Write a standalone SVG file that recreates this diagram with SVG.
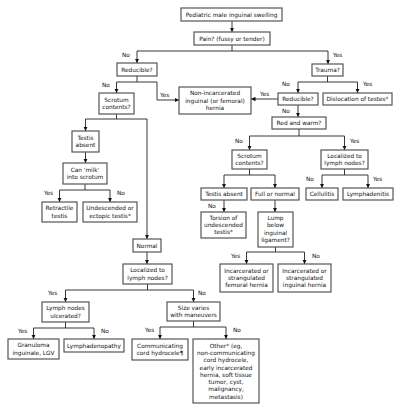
<svg xmlns="http://www.w3.org/2000/svg" width="400" height="411" viewBox="0 0 400 411">
<defs>
<marker id="ah" markerUnits="userSpaceOnUse" markerWidth="5" markerHeight="5" refX="4.5" refY="2.5" orient="auto">
<path d="M0,0.3 L4.5,2.5 L0,4.7 z" fill="#111"/>
</marker>
<style>
rect{fill:#fff;stroke:#555;stroke-width:1.2}
text{font-family:"DejaVu Sans",Verdana,sans-serif;font-size:5.8px;fill:#111;text-anchor:middle}
.lb{text-anchor:start}
#connectors path{fill:none;stroke:#222;stroke-width:0.9}
.a{marker-end:url(#ah)}
</style>
</defs>
<rect x="0" y="0" width="400" height="411" style="fill:#fff;stroke:none"/>
<g id="connectors">
<path class="a" d="M232,21V32"/>
<path d="M232,45V51M137,51H328"/>
<path class="a" d="M137,51V63"/>
<path class="a" d="M328,51V64"/>
<path d="M137,76V82M116.5,82H157"/>
<path class="a" d="M116.5,82V93"/>
<path class="a" d="M157,82V100H179"/>
<path d="M116.5,114V119M85.5,119H147"/>
<path class="a" d="M85.5,119V131"/>
<path class="a" d="M147,119V239"/>
<path class="a" d="M85.5,152V163"/>
<path d="M85,184V190M59.5,190H110"/>
<path class="a" d="M59.5,190V202"/>
<path class="a" d="M110,190V202"/>
<path class="a" d="M147,252V264"/>
<path d="M147.5,284V290M65.5,290H193.5"/>
<path class="a" d="M65.5,290V302"/>
<path class="a" d="M193.5,290V302"/>
<path d="M65.5,322V328M33.5,328H94"/>
<path class="a" d="M33.5,328V339"/>
<path class="a" d="M94,328V339"/>
<path d="M193.5,321V327M160,327H226"/>
<path class="a" d="M160,327V339"/>
<path class="a" d="M226,327V339"/>
<path d="M327.5,76V82M298,82H357.5"/>
<path class="a" d="M298,82V93"/>
<path class="a" d="M357.5,82V93"/>
<path class="a" d="M278,99H251"/>
<path class="a" d="M298,105V117"/>
<path d="M299,129V136M249.5,136H344.5"/>
<path class="a" d="M249.5,136V150"/>
<path class="a" d="M344.5,136V150"/>
<path d="M249.5,169V175M224,175H275"/>
<path class="a" d="M224,175V188"/>
<path class="a" d="M275,175V188"/>
<path d="M344.5,169V175M322,175H368"/>
<path class="a" d="M322,175V188"/>
<path class="a" d="M368,175V188"/>
<path class="a" d="M224,200V212"/>
<path class="a" d="M275,200V212"/>
<path d="M275.5,247V252M246.5,252H304.5"/>
<path class="a" d="M246.5,252V264"/>
<path class="a" d="M304.5,252V264"/>
</g>
<g id="labels">
<text class="lb" x="122" y="57">No</text>
<text class="lb" x="333" y="57">Yes</text>
<text class="lb" x="102" y="87">No</text>
<text class="lb" x="160" y="97">Yes</text>
<text class="lb" x="44" y="195">Yes</text>
<text class="lb" x="117" y="195">No</text>
<text class="lb" x="48" y="295">Yes</text>
<text class="lb" x="198" y="295">No</text>
<text class="lb" x="18" y="333">Yes</text>
<text class="lb" x="101" y="333">No</text>
<text class="lb" x="145" y="332">Yes</text>
<text class="lb" x="233" y="332">No</text>
<text class="lb" x="282" y="86">No</text>
<text class="lb" x="363" y="86">Yes</text>
<text class="lb" x="260" y="96">Yes</text>
<text class="lb" x="282" y="113">No</text>
<text class="lb" x="235" y="143">No</text>
<text class="lb" x="350" y="143">Yes</text>
<text class="lb" x="306" y="181">No</text>
<text class="lb" x="373" y="181">Yes</text>
<text class="lb" x="208" y="208">No</text>
<text class="lb" x="231" y="258">Yes</text>
<text class="lb" x="312" y="258">No</text>
</g>
<g id="n-title"><rect x="181" y="8" width="101" height="13"/><text x="231.5" y="16.6">Pediatric male inguinal swelling</text></g>
<g id="n-pain"><rect x="194" y="32" width="76" height="13"/><text x="232" y="40.6">Pain? (fussy or tender)</text></g>
<g id="n-reducible1"><rect x="117" y="63" width="40" height="13"/><text x="137" y="71.6">Reducible?</text></g>
<g id="n-trauma"><rect x="312" y="64" width="31" height="12"/><text x="327.5" y="72.1">Trauma?</text></g>
<g id="n-nonincarcerated"><rect x="179" y="87" width="72" height="27"/><text x="215" y="95.3">Non-incarcerated<tspan x="215" dy="7.3">inguinal (or femoral)</tspan><tspan x="215" dy="7.3">hernia</tspan></text></g>
<g id="n-reducible2"><rect x="278" y="93" width="40" height="12"/><text x="298" y="101.1">Reducible?</text></g>
<g id="n-dislocation"><rect x="323" y="93" width="69" height="12"/><text x="357.5" y="101.1">Dislocation of testes*</text></g>
<g id="n-redwarm"><rect x="272" y="117" width="54" height="12"/><text x="299" y="125.1">Red and warm?</text></g>
<g id="n-scrotum1"><rect x="99" y="93" width="35" height="21"/><text x="116.5" y="101.8">Scrotum<tspan x="116.5" dy="7.3">contents?</tspan></text></g>
<g id="n-testisabsent1"><rect x="72" y="131" width="27" height="21"/><text x="85.5" y="139.8">Testis<tspan x="85.5" dy="7.3">absent</tspan></text></g>
<g id="n-milk"><rect x="63" y="163" width="44" height="21"/><text x="85" y="171.8">Can 'milk'<tspan x="85" dy="7.3">into scrotum</tspan></text></g>
<g id="n-retractile"><rect x="42" y="202" width="35" height="20"/><text x="59.5" y="210.3">Retractile<tspan x="59.5" dy="7.3">testis</tspan></text></g>
<g id="n-undescended"><rect x="83" y="202" width="54" height="20"/><text x="110" y="210.3">Undescended or<tspan x="110" dy="7.3">ectopic testis*</tspan></text></g>
<g id="n-normal"><rect x="133" y="239" width="28" height="13"/><text x="147" y="247.6">Normal</text></g>
<g id="n-localized1"><rect x="123" y="264" width="49" height="20"/><text x="147.5" y="272.3">Localized to<tspan x="147.5" dy="7.3">lymph nodes?</tspan></text></g>
<g id="n-ulcerated"><rect x="42" y="302" width="47" height="20"/><text x="65.5" y="310.3">Lymph nodes<tspan x="65.5" dy="7.3">ulcerated?</tspan></text></g>
<g id="n-granuloma"><rect x="8" y="339" width="51" height="20"/><text x="33.5" y="347.3">Granuloma<tspan x="33.5" dy="7.3">inguinale, LGV</tspan></text></g>
<g id="n-lymphadenopathy"><rect x="64" y="339" width="60" height="13"/><text x="94" y="347.6">Lymphadenopathy</text></g>
<g id="n-sizevaries"><rect x="167" y="302" width="53" height="19"/><text x="193.5" y="309.8">Size varies<tspan x="193.5" dy="7.3">with maneuvers</tspan></text></g>
<g id="n-communicating"><rect x="132" y="339" width="56" height="21"/><text x="160" y="347.8">Communicating<tspan x="160" dy="7.3">cord hydrocele¶</tspan></text></g>
<g id="n-other"><rect x="193" y="339" width="66" height="64"/><text x="226" y="347.6">Other* (eg,<tspan x="226" dy="7.3">non-communicating</tspan><tspan x="226" dy="7.3">cord hydrocele,</tspan><tspan x="226" dy="7.3">early incarcerated</tspan><tspan x="226" dy="7.3">hernia, soft tissue</tspan><tspan x="226" dy="7.3">tumor, cyst,</tspan><tspan x="226" dy="7.3">malignancy,</tspan><tspan x="226" dy="7.3">metastasis)</tspan></text></g>
<g id="n-scrotum2"><rect x="232" y="150" width="35" height="19"/><text x="249.5" y="157.8">Scrotum<tspan x="249.5" dy="7.3">contents?</tspan></text></g>
<g id="n-localized2"><rect x="321" y="150" width="47" height="19"/><text x="344.5" y="157.8">Localized to<tspan x="344.5" dy="7.3">lymph nodes?</tspan></text></g>
<g id="n-testisabsent2"><rect x="201" y="188" width="46" height="12"/><text x="224" y="196.1">Testis absent</text></g>
<g id="n-fullnormal"><rect x="251" y="188" width="48" height="12"/><text x="275" y="196.1">Full or normal</text></g>
<g id="n-cellulitis"><rect x="306" y="188" width="32" height="12"/><text x="322" y="196.1">Cellulitis</text></g>
<g id="n-lymphadenitis"><rect x="343" y="188" width="50" height="12"/><text x="368" y="196.1">Lymphadenitis</text></g>
<g id="n-torsion"><rect x="201" y="212" width="45" height="26"/><text x="223.5" y="219.8">Torsion of<tspan x="223.5" dy="7.3">undescended</tspan><tspan x="223.5" dy="7.3">testis*</tspan></text></g>
<g id="n-lump"><rect x="258" y="212" width="35" height="35"/><text x="275.5" y="220.1">Lump<tspan x="275.5" dy="7.3">below</tspan><tspan x="275.5" dy="7.3">inguinal</tspan><tspan x="275.5" dy="7.3">ligament?</tspan></text></g>
<g id="n-femoral"><rect x="220" y="264" width="53" height="28"/><text x="246.5" y="272.7">Incarcerated or<tspan x="246.5" dy="7.3">strangulated</tspan><tspan x="246.5" dy="7.3">femoral hernia</tspan></text></g>
<g id="n-inguinal"><rect x="278" y="264" width="53" height="28"/><text x="304.5" y="272.7">Incarcerated or<tspan x="304.5" dy="7.3">strangulated</tspan><tspan x="304.5" dy="7.3">inguinal hernia</tspan></text></g>
</svg>
